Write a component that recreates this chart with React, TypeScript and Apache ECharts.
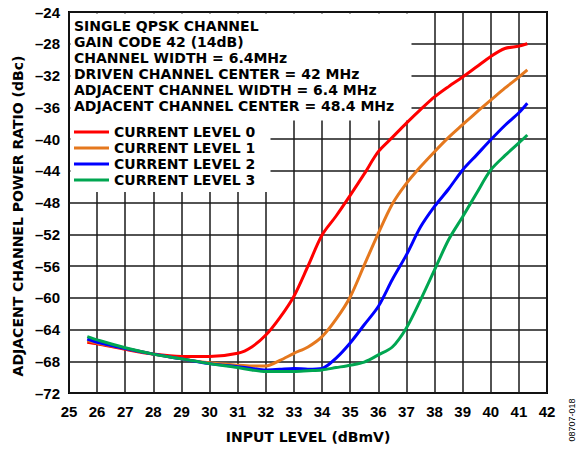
import React, { useEffect, useRef } from "react";
import * as echarts from "echarts";

const inputLevel = [25.65, 26, 27, 28, 29, 30, 31, 31.5, 32, 32.5, 33, 33.5, 34, 34.5, 35, 35.5, 36, 36.5, 37, 37.5, 38, 38.5, 39, 39.5, 40, 40.5, 41, 41.3];
const level0 = [-65.6, -65.8, -66.5, -67.1, -67.4, -67.4, -67.0, -66.2, -64.7, -62.5, -59.8, -56.0, -52.1, -49.7, -47.1, -44.4, -41.6, -39.8, -38.0, -36.3, -34.7, -33.4, -32.2, -30.9, -29.6, -28.6, -28.3, -28.0];
const level1 = [-65.4, -65.7, -66.4, -67.1, -67.7, -68.2, -68.5, -68.6, -68.6, -67.9, -67.0, -66.2, -64.9, -62.7, -59.9, -55.9, -51.9, -48.2, -45.6, -43.5, -41.6, -39.8, -38.2, -36.6, -35.1, -33.6, -32.2, -31.3];
const level2 = [-65.2, -65.6, -66.4, -67.1, -67.7, -68.3, -68.7, -68.9, -69.1, -69.0, -68.9, -69.0, -68.9, -67.6, -65.7, -63.4, -61.1, -57.7, -54.6, -51.1, -48.5, -46.3, -43.9, -42.0, -40.1, -38.3, -36.7, -35.5];
const level3 = [-64.9, -65.3, -66.3, -67.1, -67.7, -68.3, -68.8, -69.1, -69.3, -69.3, -69.3, -69.2, -69.1, -68.8, -68.5, -68.1, -67.2, -66.2, -63.8, -60.3, -56.5, -52.7, -49.8, -46.8, -43.9, -42.1, -40.5, -39.5];

const seriesNames = ["CURRENT LEVEL 0", "CURRENT LEVEL 1", "CURRENT LEVEL 2", "CURRENT LEVEL 3"];
const seriesColors = ["#ff0000", "#e5781e", "#0000ff", "#00a651"];
const xTicks = [25, 26, 27, 28, 29, 30, 31, 32, 33, 34, 35, 36, 37, 38, 39, 40, 41, 42];
const yTicks = [-72, -68, -64, -60, -56, -52, -48, -44, -40, -36, -32, -28, -24];

const infoLines = [
  "SINGLE QPSK CHANNEL",
  "GAIN CODE 42 (14dB)",
  "CHANNEL WIDTH = 6.4MHz",
  "DRIVEN CHANNEL CENTER = 42 MHz",
  "ADJACENT CHANNEL WIDTH = 6.4 MHz",
  "ADJACENT CHANNEL CENTER = 48.4 MHz",
];

const TITLE_FONT = 'bold 14px "DejaVu Sans"';

export default function App() {
  const ref = useRef<HTMLDivElement>(null);
  useEffect(() => {
    if (!ref.current) return;
    const chart = echarts.init(ref.current, null, { renderer: "svg" });
    const all = [level0, level1, level2, level3];
    const series = all.map((vals, i) => ({
      name: seriesNames[i],
      type: "line",
      data: vals.map((v, j) => [inputLevel[j], v]),
      smooth: 0.3,
      symbol: "none",
      lineStyle: { color: seriesColors[i], width: 3 },
      itemStyle: { color: seriesColors[i] },
      z: 3,
    }));
    const graphic: any[] = [
      { type: "rect", shape: { x: 70.5, y: 13.5, width: 341, height: 107 }, style: { fill: "#fff" }, z: 1 },
      { type: "rect", shape: { x: 70.5, y: 118, width: 200, height: 74 }, style: { fill: "#fff" }, z: 1 },
      {
        type: "text",
        x: 17.5,
        y: 216,
        rotation: Math.PI / 2,
        style: { text: "ADJACENT CHANNEL POWER RATIO (dBc)", font: TITLE_FONT, fill: "#000", align: "center", verticalAlign: "middle" },
        z: 5,
      },
      {
        type: "text",
        x: 572,
        y: 420,
        rotation: Math.PI / 2,
        style: { text: "08707-018", font: '9px "Liberation Sans"', fill: "#000", align: "center", verticalAlign: "middle" },
        z: 5,
      },
    ];
    infoLines.forEach((t, i) => {
      graphic.push({
        type: "text",
        x: 74,
        y: 26 + i * 15.9,
        style: { text: t, font: TITLE_FONT, fill: "#000", align: "left", verticalAlign: "middle" },
        z: 5,
      });
    });
    chart.setOption({
      animation: false,
      grid: { left: 69, right: 34, top: 12, bottom: 57, show: true, borderColor: "#000", borderWidth: 2, backgroundColor: "transparent" },
      xAxis: {
        type: "value",
        min: xTicks[0],
        max: xTicks[xTicks.length - 1],
        interval: 1,
        name: "INPUT LEVEL (dBmV)",
        nameLocation: "middle",
        nameGap: 37,
        nameTextStyle: { color: "#000", fontWeight: "bold", fontSize: 14, fontFamily: "DejaVu Sans" },
        axisLine: { show: false },
        axisTick: { show: false },
        axisLabel: { color: "#000", fontWeight: "bold", fontSize: 15, fontFamily: "Liberation Sans", margin: 11 },
        splitLine: { show: true, lineStyle: { color: "#1a1a1a", width: 1.5 } },
      },
      yAxis: {
        type: "value",
        min: yTicks[0],
        max: yTicks[yTicks.length - 1],
        interval: 4,
        axisLine: { show: false },
        axisTick: { show: false },
        axisLabel: {
          color: "#000",
          fontWeight: "bold",
          fontSize: 15,
          fontFamily: "Liberation Sans",
          margin: 9,
          formatter: (v: number) => (v < 0 ? "\u2013" + Math.abs(v) : String(v)),
        },
        splitLine: { show: true, lineStyle: { color: "#1a1a1a", width: 1.5 } },
      },
      legend: {
        orient: "vertical",
        left: 74,
        top: 124,
        padding: 0,
        itemGap: 0,
        itemWidth: 35,
        itemHeight: 3,
        icon: "rect",
        data: seriesNames,
        textStyle: { color: "#000", fontWeight: "bold", fontSize: 14, fontFamily: "DejaVu Sans", lineHeight: 16, height: 16 },
        z: 6,
      },
      graphic,
      series,
    });
    return () => chart.dispose();
  }, []);
  return <div ref={ref} style={{ position: "fixed", left: 0, top: 0, width: 581, height: 450, background: "#fff" }} />;
}
